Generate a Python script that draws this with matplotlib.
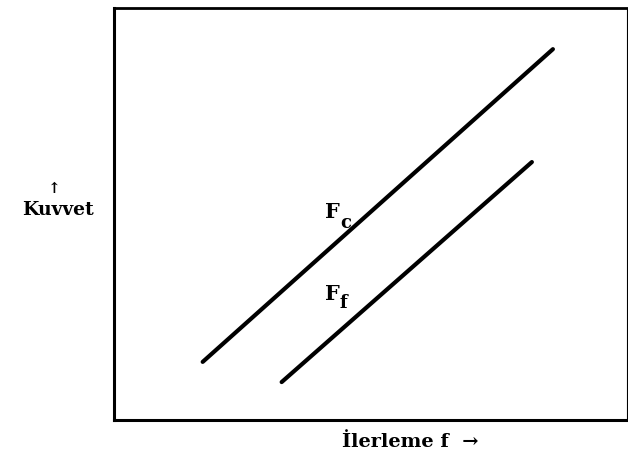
import matplotlib
matplotlib.use("Agg")
import matplotlib.pyplot as plt

# schematic lines: cutting force Fc and feed force Ff vs feed f
fc_x = [1.73, 8.56]
fc_y = [1.41, 9.00]
ff_x = [3.27, 8.15]
ff_y = [0.92, 6.26]

x_label = "İlerleme f  →"
y_label = "Kuvvet"

plt.rcParams['font.family'] = ['DejaVu Serif', 'DejaVu Sans']
plt.rcParams['font.weight'] = 'bold'

fig = plt.figure(figsize=(6.28, 4.68), dpi=100)
ax = fig.add_axes([0.1815, 0.1026, 0.8165, 0.8804])

ax.plot(fc_x, fc_y, color="black", lw=3.0, solid_capstyle="round")
ax.plot(ff_x, ff_y, color="black", lw=3.0, solid_capstyle="round")

# line labels
ax.text(4.12, 4.90, "F", fontsize=15, fontweight="bold", va="baseline")
ax.text(4.42, 4.66, "c", fontsize=13, fontweight="bold", va="baseline")
ax.text(4.12, 2.91, "F", fontsize=15, fontweight="bold", va="baseline")
ax.text(4.40, 3.05, "f", fontsize=13, fontweight="bold", va="top")

ax.set_xlim(0, 10)
ax.set_ylim(0, 10)
ax.set_xticks([])
ax.set_yticks([])
for side, w in [("left", 2.2), ("bottom", 2.2), ("top", 2.0), ("right", 0.8)]:
    ax.spines[side].set_linewidth(w)
    ax.spines[side].set_color("black")

# axis labels drawn as free text, like the original sketch
fig.text(0.086, 0.596, "↑", fontsize=11, fontweight="bold", ha="center", va="center")
fig.text(0.093, 0.541, y_label, fontsize=13.5, fontweight="bold", ha="center", va="baseline")
fig.text(0.653, 0.045, x_label, fontsize=14, fontweight="bold", ha="center", va="baseline")

fig.savefig("out.png", dpi=100)
